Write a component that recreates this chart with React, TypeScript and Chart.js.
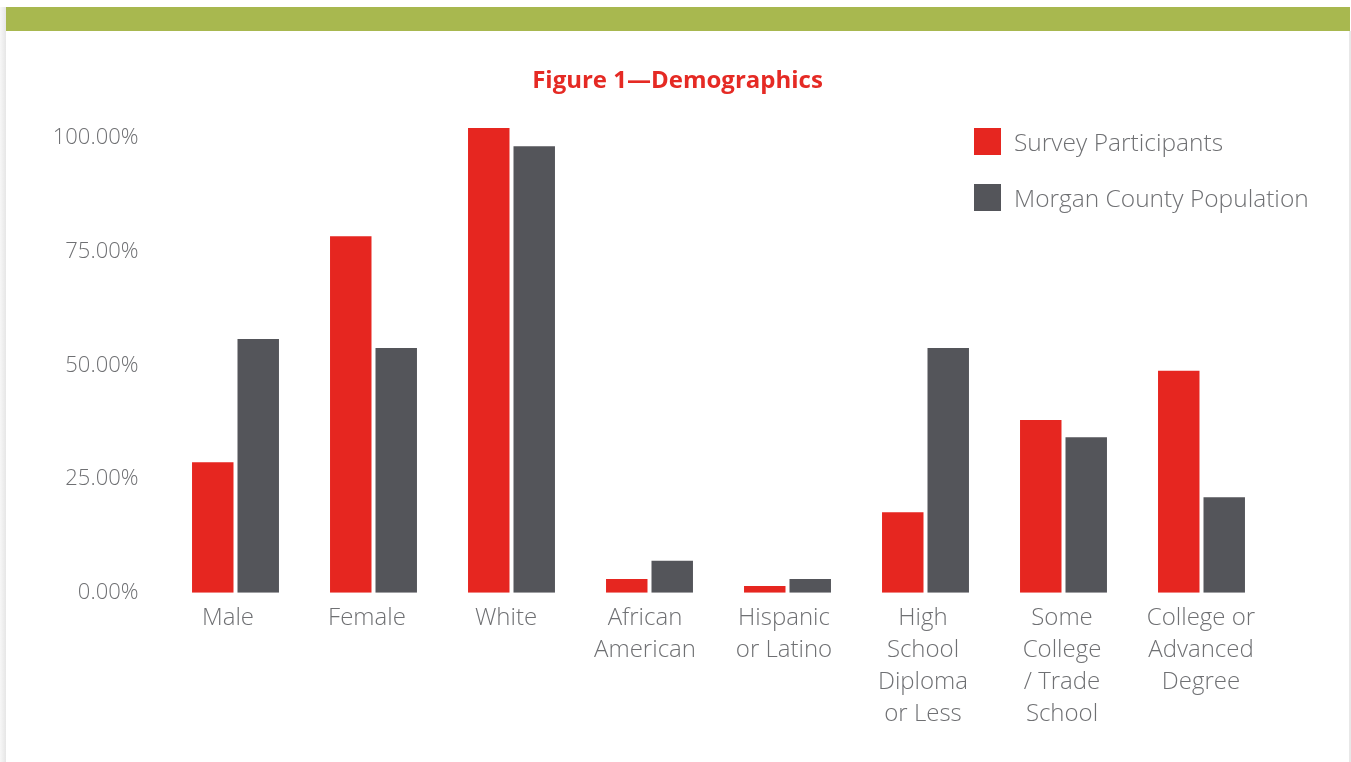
import React, { useEffect, useRef } from "react";
import { Chart, registerables } from "chart.js";

Chart.register(...registerables);

const categories: string[][] = [
  ["Male"],
  ["Female"],
  ["White"],
  ["African", "American"],
  ["Hispanic", "or Latino"],
  ["High", "School", "Diploma", "or Less"],
  ["Some", "College", "/ Trade", "School"],
  ["College or", "Advanced", "Degree"],
];
const seriesNames = ["Survey Participants", "Morgan County Population"];
const surveyValues = [28.7, 78.4, 102.2, 3.0, 1.5, 17.7, 38.0, 48.8];
const countyValues = [55.8, 53.8, 98.2, 7.0, 3.0, 53.8, 34.2, 21.0];
const yTicks = [0, 25, 50, 75, 100];
const seriesColors = ["#e62620", "#54555a"];
const titleText = "Figure 1\u2014Demographics";

const FONT = "'Open Sans', 'Noto Sans', sans-serif";
const TEXT_GRAY = "#6f7073";

export default function App() {
  const canvasRef = useRef<HTMLCanvasElement | null>(null);

  useEffect(() => {
    const canvas = canvasRef.current;
    if (!canvas) return;
    const chart = new Chart(canvas, {
      type: "bar",
      data: {
        labels: categories,
        datasets: [
          {
            label: seriesNames[0],
            data: surveyValues,
            backgroundColor: seriesColors[0],
            borderWidth: 0,
          },
          {
            label: seriesNames[1],
            data: countyValues,
            backgroundColor: seriesColors[1],
            borderWidth: 0,
          },
        ],
      },
      options: {
        responsive: false,
        animation: false,
        maintainAspectRatio: false,
        layout: { padding: { left: 0, right: 0, top: 0, bottom: 0 } },
        datasets: {
          bar: { categoryPercentage: 0.659, barPercentage: 0.912 },
        },
        plugins: {
          legend: { display: false },
          tooltip: { enabled: false },
          title: {
            display: true,
            text: titleText,
            color: "#e52a24",
            font: { family: FONT, size: 24, weight: "bold" },
            padding: { top: 35.6, bottom: 24.4 },
          },
        },
        scales: {
          x: {
            grid: { display: false, drawTicks: false },
            border: { display: false },
            ticks: { display: false },
            afterFit: (scale: any) => {
              scale.height = 0;
            },
          },
          xLabels: {
            type: "linear",
            position: "bottom",
            offset: false,
            bounds: "ticks",
            min: -0.4424,
            max: 7.5,
            grid: { display: false, drawTicks: false, offset: false },
            border: { display: false },
            afterBuildTicks: (scale: any) => {
              scale.ticks = categories.map((_, i) => ({ value: i }));
            },
            ticks: {
              padding: 9,
              color: TEXT_GRAY,
              maxRotation: 0,
              autoSkip: false,
              font: { family: FONT, size: 24, weight: "300", lineHeight: 32 / 24 },
              callback: (v: any) => categories[Math.round(Number(v))] ?? "",
            },
            afterFit: (scale: any) => {
              scale.height = 169.3;
            },
          },
          y: {
            min: 0,
            max: 104,
            grid: { display: false, drawTicks: false },
            border: { display: false },
            afterBuildTicks: (scale: any) => {
              scale.ticks = yTicks.map((v) => ({ value: v }));
            },
            afterFit: (scale: any) => {
              scale.width = 160.5;
            },
            ticks: {
              padding: 28,
              color: TEXT_GRAY,
              font: { family: FONT, size: 22, weight: "300" },
              callback: (v: any) => Number(v).toFixed(2) + "%",
            },
          },
          yRight: {
            position: "right",
            display: true,
            min: 0,
            max: 104,
            grid: { display: false, drawTicks: false },
            border: { display: false },
            ticks: { display: false },
            afterFit: (scale: any) => {
              scale.width = 78.5;
            },
          },
        },
      } as any,
    });
    return () => chart.destroy();
  }, []);

  return (
    <div
      style={{
        position: "absolute",
        left: 0,
        top: 0,
        width: 1351,
        height: 762,
        overflow: "hidden",
        background: "#ffffff",
        fontFamily: FONT,
      }}
    >
      <div
        style={{
          position: "absolute",
          left: 0,
          top: 7,
          width: 6,
          height: 755,
          background: "linear-gradient(to right, #f7f7f7, #e6e6e6)",
        }}
      />
      <div
        style={{
          position: "absolute",
          left: 6,
          top: 7,
          width: 1344,
          height: 24,
          background: "#a8b84f",
        }}
      />
      <div
        style={{
          position: "absolute",
          left: 1349,
          top: 31,
          width: 2,
          height: 731,
          background: "#e8e8e8",
        }}
      />
      <canvas
        ref={canvasRef}
        width={1343}
        height={731}
        style={{ position: "absolute", left: 6, top: 31, width: 1343, height: 731 }}
      />
      {seriesNames.map((name, i) => (
        <div
          key={name}
          style={{
            position: "absolute",
            left: 974,
            top: 128 + i * 56,
            height: 27,
            display: "flex",
            alignItems: "center",
            whiteSpace: "nowrap",
          }}
        >
          <div style={{ width: 27, height: 27, background: seriesColors[i] }} />
          <span
            style={{
              marginLeft: 13,
              fontSize: 24.5,
              fontWeight: 300,
              color: TEXT_GRAY,
              lineHeight: "27px",
            }}
          >
            {name}
          </span>
        </div>
      ))}
    </div>
  );
}
